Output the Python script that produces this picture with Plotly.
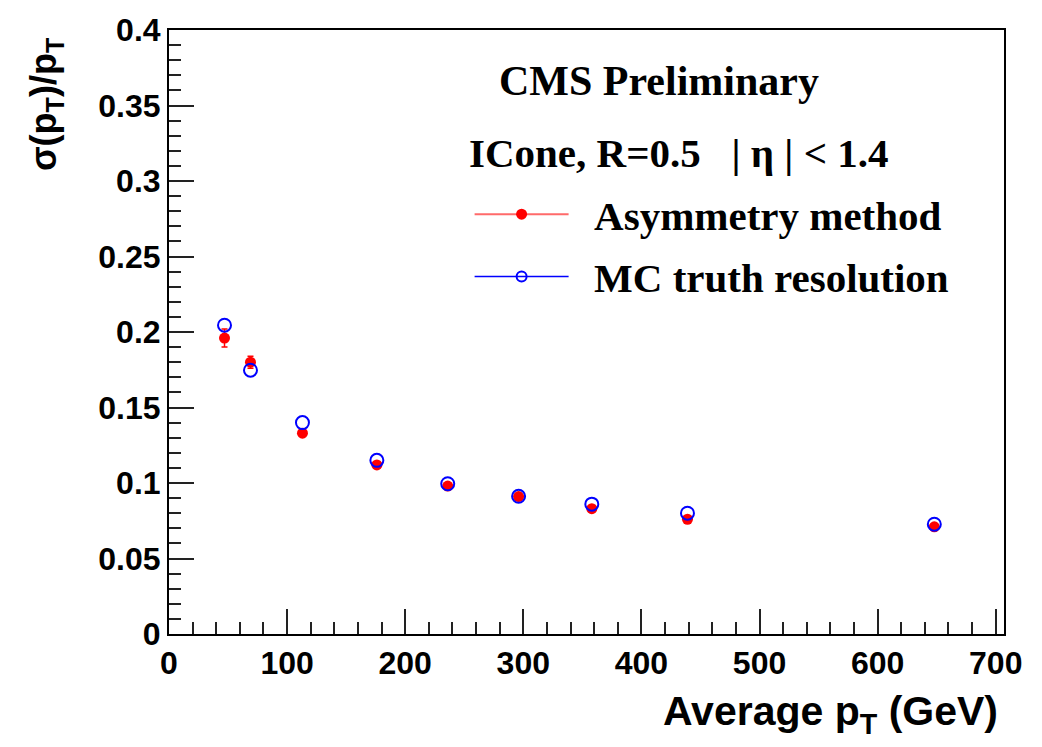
import plotly.graph_objects as go

# Average jet pT bins (GeV)
pt_avg = [47, 69, 113, 176, 236, 296, 358, 439, 648]

# Relative resolution from the dijet asymmetry method, with statistical errors
asym_res = [0.196, 0.180, 0.133, 0.112, 0.098, 0.091, 0.083, 0.076, 0.071]
asym_err = [0.006, 0.004, 0.002, 0.0015, 0.001, 0.001, 0.001, 0.001, 0.001]

# Relative resolution from MC truth
mc_res = [0.2045, 0.1747, 0.140, 0.115, 0.0995, 0.0912, 0.086, 0.080, 0.0727]

x_ticks = [0, 100, 200, 300, 400, 500, 600, 700]
y_ticks = [0, 0.05, 0.1, 0.15, 0.2, 0.25, 0.3, 0.35, 0.4]
y_tick_text = ["0", "0.05", "0.1", "0.15", "0.2", "0.25", "0.3", "0.35", "0.4"]

RED = "#ff0000"
BLUE = "#0000ff"
SANS = "Liberation Sans, Arial, sans-serif"
SERIF = "Liberation Serif, Times New Roman, serif"
NBSP = "\u00a0"

fig = go.Figure()

fig.add_trace(go.Scatter(
    x=pt_avg, y=asym_res, mode="markers", showlegend=False,
    marker=dict(symbol="circle", size=11, color=RED),
    error_y=dict(type="data", array=asym_err, color=RED, thickness=1.5, width=3),
))
fig.add_trace(go.Scatter(
    x=pt_avg, y=mc_res, mode="markers", showlegend=False,
    marker=dict(symbol="circle-open", size=13, color=BLUE, line=dict(width=2, color=BLUE)),
))

# Legend entries (line + marker style as in the ROOT legend)
fig.add_trace(go.Scatter(
    x=[None], y=[None], mode="lines+markers", name=NBSP * 2 + "Asymmetry method",
    legendgroup="a",
    line=dict(color="#ff6a6a", width=2),
    marker=dict(symbol="circle", size=11, color=RED),
))
fig.add_trace(go.Scatter(
    x=[None], y=[None], mode="lines+markers", name=NBSP * 2 + "MC truth resolution",
    legendgroup="b",
    line=dict(color=BLUE, width=1.5),
    marker=dict(symbol="circle-open", size=10, color=BLUE, line=dict(width=2, color=BLUE)),
))

axis_common = dict(
    showline=True, linecolor="#000000", linewidth=2, mirror=True,
    ticks="inside", tickcolor="#222222", tickwidth=2,
    showgrid=False, zeroline=False,
    tickfont=dict(family=SANS, size=32, color="#000000", weight="bold"),
)

fig.update_xaxes(
    range=[0, 707], tickvals=x_ticks, ticklen=25,
    minor=dict(dtick=20, ticks="inside", ticklen=12, tickcolor="#222222", tickwidth=2),
    **axis_common,
)
fig.update_yaxes(
    range=[0, 0.4], tickvals=y_ticks, ticktext=y_tick_text, ticklen=25,
    minor=dict(dtick=0.01, ticks="inside", ticklen=12, tickcolor="#222222", tickwidth=2),
    **axis_common,
)

fig.update_layout(
    width=1042, height=747,
    margin=dict(l=169, r=38, t=18, b=113),
    paper_bgcolor="white", plot_bgcolor="white",
    legend=dict(
        x=0.36, y=0.75, xanchor="left", yanchor="top",
        bgcolor="rgba(0,0,0,0)", borderwidth=0,
        font=dict(family=SERIF, size=41, color="#000000", weight="bold"),
        itemwidth=94, tracegroupgap=6, traceorder="grouped",
    ),
    annotations=[
        dict(text="CMS Preliminary", xref="paper", yref="paper",
             x=0.587, y=0.915, xanchor="center", yanchor="middle", showarrow=False,
             font=dict(family=SERIF, size=42, color="#000000", weight="bold")),
        dict(text="ICone, R=0.5   | η | &lt; 1.4", xref="paper", yref="paper",
             x=0.357, y=0.796, xanchor="left", yanchor="middle", showarrow=False,
             font=dict(family=SERIF, size=41, color="#000000", weight="bold")),
        dict(text="Average p<sub>T</sub> (GeV)", xref="paper", yref="paper",
             x=0.995, y=-0.133, xanchor="right", yanchor="middle", showarrow=False,
             font=dict(family=SANS, size=41, color="#000000", weight="bold")),
        dict(text="σ(p<sub>T</sub>)/p<sub>T</sub>", xref="paper", yref="paper",
             x=-0.147, y=0.992, xanchor="center", yanchor="top", showarrow=False,
             textangle=-90,
             font=dict(family=SANS, size=36, color="#000000", weight="bold")),
    ],
)

fig.write_html("out.html")
